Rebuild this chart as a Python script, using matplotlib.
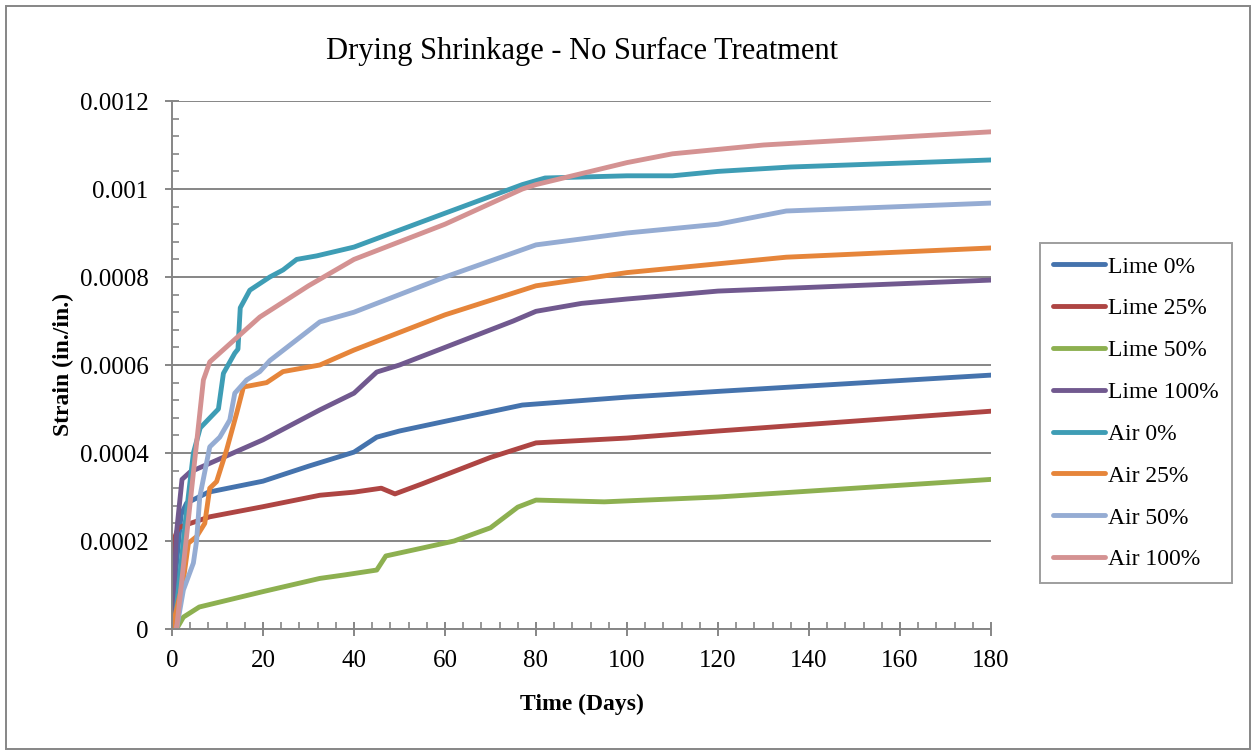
import matplotlib.pyplot as plt
from matplotlib.patches import Rectangle

plt.rcParams['font.family'] = ['Liberation Serif', 'DejaVu Serif']

# readings (days, strain)
lime0_t = [0, 1, 2, 3.2, 8, 20, 30, 40, 45, 50, 60, 77, 100, 120, 180]
lime0_s = [0, 0.00015, 0.00026, 0.000286, 0.000311, 0.000336, 0.00037, 0.000402, 0.000436, 0.00045, 0.000472, 0.000509, 0.000527, 0.00054, 0.000577]

lime25_t = [0, 0.3, 1.4, 4, 8.3, 20, 32.5, 40, 46, 49, 55, 70, 80, 100, 120, 180]
lime25_s = [0, 0.0002, 0.00023, 0.00024, 0.000255, 0.000278, 0.000304, 0.000311, 0.00032, 0.000307, 0.00033, 0.00039, 0.000423, 0.000434, 0.00045, 0.000495]

lime50_t = [1, 2.5, 6, 20, 32.5, 38, 45, 47, 55, 62, 70, 76, 80, 95, 120, 180]
lime50_s = [0, 0.000027, 0.00005, 0.000085, 0.000115, 0.000123, 0.000134, 0.000166, 0.000184, 0.0002, 0.00023, 0.000277, 0.000293, 0.000289, 0.0003, 0.00034]

lime100_t = [0, 1, 2.2, 4, 20, 32.5, 40, 45, 50, 75, 80, 90, 100, 120, 180]
lime100_s = [0, 0.00022, 0.00034, 0.000357, 0.00043, 0.000498, 0.000536, 0.000584, 0.0006, 0.0007, 0.000722, 0.00074, 0.00075, 0.000768, 0.000793]

air0_t = [0.5, 3, 4.7, 6.2, 10.2, 11.3, 13.8, 14.5, 15, 17.1, 21.5, 24.4, 27.4, 31.8, 40, 60, 77, 82, 100, 110, 120, 136, 180]
air0_s = [0, 0.00025, 0.0004, 0.000457, 0.0005, 0.000581, 0.000627, 0.000636, 0.00073, 0.00077, 0.0008, 0.000816, 0.00084, 0.000848, 0.000868, 0.000945, 0.00101, 0.001025, 0.00103, 0.00103, 0.00104, 0.00105, 0.001066]

air25_t = [0, 2.5, 3.6, 5.4, 7.2, 8.3, 9.8, 12, 14.2, 15.7, 20.8, 24.4, 32.5, 40, 60, 80, 100, 120, 135, 180]
air25_s = [0, 0.000111, 0.000195, 0.00021, 0.00024, 0.00032, 0.000335, 0.000407, 0.00049, 0.00055, 0.00056, 0.000585, 0.0006, 0.000634, 0.000714, 0.00078, 0.00081, 0.00083, 0.000845, 0.000866]

air50_t = [1, 2.5, 4.7, 5.4, 6.1, 8.3, 10.5, 12.7, 13.8, 16.4, 19.3, 21.5, 32.5, 40, 60, 80, 100, 120, 135, 180]
air50_s = [0, 0.0000886, 0.00015, 0.0002, 0.0003, 0.000414, 0.000436, 0.000475, 0.000536, 0.000566, 0.000585, 0.00061, 0.000698, 0.00072, 0.0008, 0.000873, 0.0009, 0.00092, 0.00095, 0.000968]

air100_t = [1, 6.9, 8.3, 19.3, 30, 40, 60, 77, 80, 100, 110, 120, 130, 180]
air100_s = [0, 0.000566, 0.000607, 0.000709, 0.00078, 0.00084, 0.00092, 0.001, 0.00101, 0.00106, 0.00108, 0.00109, 0.0011, 0.00113]

series = [
    ('Lime 0%', lime0_t, lime0_s, '#4573AD'),
    ('Lime 25%', lime25_t, lime25_s, '#AE4543'),
    ('Lime 50%', lime50_t, lime50_s, '#8DB050'),
    ('Lime 100%', lime100_t, lime100_s, '#71598F'),
    ('Air 0%', air0_t, air0_s, '#3E9DB5'),
    ('Air 25%', air25_t, air25_s, '#E6853A'),
    ('Air 50%', air50_t, air50_s, '#95ACD3'),
    ('Air 100%', air100_t, air100_s, '#D49292'),
]

fig = plt.figure(figsize=(12.53, 7.51), dpi=100)
ax = fig.add_axes([172 / 1253, 1 - 629 / 751, (991 - 172) / 1253, (629 - 101) / 751])

for name, t, s, c in series:
    ax.plot(t, s, color=c, lw=3.5, label=name, solid_joinstyle='round', solid_capstyle='round')

grey = '#868686'
ax.set_xlim(0, 180)
ax.set_ylim(0, 0.0012)
ax.set_xticks(range(0, 181, 20))
ax.set_xticks(range(0, 181, 4), minor=True)
ax.set_yticks([0, 0.0002, 0.0004, 0.0006, 0.0008, 0.001, 0.0012])
ax.set_yticklabels(['0', '0.0002', '0.0004', '0.0006', '0.0008', '0.001', '0.0012'])
ax.set_yticks([i * 0.00004 for i in range(31)], minor=True)
ax.grid(axis='y', which='major', color=grey, lw=1.4)
ax.set_axisbelow(True)
for sp in ['top', 'right']:
    ax.spines[sp].set_visible(False)
for sp in ['left', 'bottom']:
    ax.spines[sp].set_color(grey)
    ax.spines[sp].set_linewidth(1.4)
ax.tick_params(which='major', direction='inout', length=10, width=1.4, color=grey, labelsize=18)
ax.tick_params(axis='y', which='major', pad=12)
ax.tick_params(axis='x', which='major', pad=10)
ax.tick_params(which='minor', direction='in', length=5, width=1.2, color=grey)

ax.set_title('Drying Shrinkage - No Surface Treatment', fontsize=22, pad=30)
ax.set_xlabel('Time (Days)', fontsize=17, fontweight='bold', labelpad=16)
ax.set_ylabel('Strain (in./in.)', fontsize=17, fontweight='bold', labelpad=4)

leg = fig.legend(loc='upper left', bbox_to_anchor=(1040 / 1253, 1 - 243 / 751),
                 fontsize=17, frameon=True, fancybox=False, handlelength=2.2,
                 handletextpad=0.15, labelspacing=0.86, borderpad=0.55, borderaxespad=0)
leg.get_frame().set_edgecolor(grey)
leg.get_frame().set_linewidth(1.4)

fig.patches.append(Rectangle((6 / 1253, 0.002), 1 - 9 / 1253, 1 - 8 / 751, transform=fig.transFigure,
                             fill=False, edgecolor=grey, lw=1.4))

fig.savefig('out.png', dpi=100)
